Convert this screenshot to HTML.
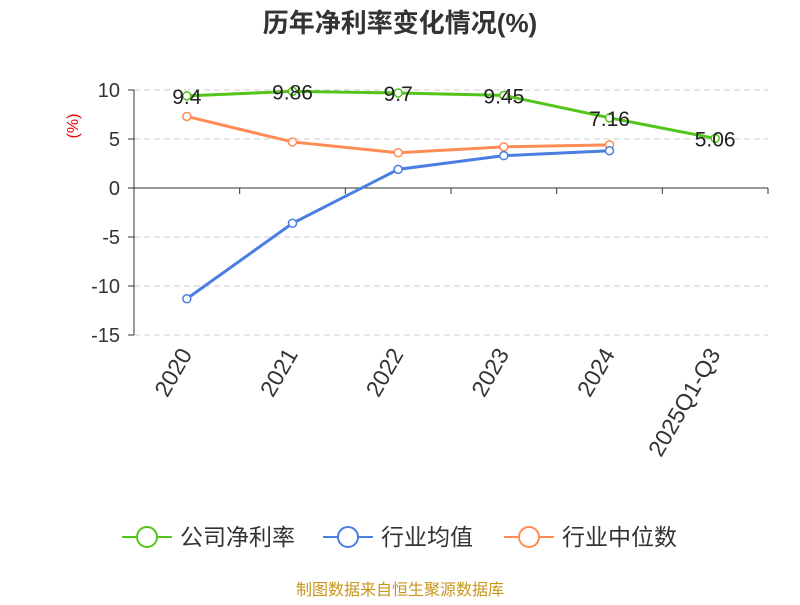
<!DOCTYPE html>
<html><head><meta charset="utf-8"><style>
body{margin:0;background:#fff;font-family:"Liberation Sans","Noto Sans CJK SC",sans-serif}
</style></head><body>
<svg id="c" width="800" height="600" xmlns="http://www.w3.org/2000/svg" font-family="Liberation Sans, Noto Sans CJK SC, sans-serif"></svg>
<script>
const categories=["2020","2021","2022","2023","2024","2025Q1-Q3"];
const companyRate=[9.4,9.86,9.7,9.45,7.16,5.06];
const industryAvg=[-11.3,-3.6,1.9,3.3,3.8];
const industryMedian=[7.3,4.7,3.6,4.2,4.4];
const yTicks=[10,5,0,-5,-10,-15];
const svg=document.getElementById('c');
const NS='http://www.w3.org/2000/svg';
const L=134,R=768,bw=(R-L)/categories.length;
const x=i=>L+bw*(i+0.5);
const y=v=>188-v*9.8;
function mk(t,a,p){const e=document.createElementNS(NS,t);for(const k in a)e.setAttribute(k,a[k]);(p||svg).appendChild(e);return e;}
let t=mk('text',{x:400,y:32,'text-anchor':'middle','font-size':26,'font-weight':'bold',fill:'#333'});t.textContent='历年净利率变化情况(%)';


t=mk('text',{x:78,y:126,'text-anchor':'middle','font-size':16,fill:'#e00',transform:'rotate(-90 78 126)'});t.textContent='(%)';


yTicks.forEach(v=>{
 if(v!==0){const g=mk('line',{x1:L,x2:R,y1:y(v),y2:y(v),stroke:'#ccc','stroke-dasharray':'6,4'});
 
 }
 const tk=mk('line',{x1:L-6,x2:L,y1:y(v),y2:y(v),stroke:'#333'});
 
 
 const l=mk('text',{x:L-14,y:y(v)+7,'text-anchor':'end','font-size':20,fill:'#333'});l.textContent=v;
 
 
});
let a=mk('line',{x1:L,x2:L,y1:y(10),y2:y(-15),stroke:'#333'});


a=mk('line',{x1:L,x2:R,y1:y(0),y2:y(0),stroke:'#333'});


categories.forEach((c,i)=>{
 const tk=mk('line',{x1:L+bw*(i+1),x2:L+bw*(i+1),y1:y(0),y2:y(0)+6,stroke:'#333'});
 
 
 const px=x(i)+6,py=354;
 const l=mk('text',{x:px,y:py,'text-anchor':'end','font-size':23,fill:'#333',transform:`rotate(-60 ${px} ${py})`});l.textContent=c;
 
 
});
function series(vals,col,name,labels){
 const p=mk('polyline',{points:vals.map((v,i)=>x(i)+','+y(v)).join(' '),fill:'none',stroke:col,'stroke-width':3});
 
 
 vals.forEach((v,i)=>{
  const c=mk('circle',{cx:x(i),cy:y(v),r:4,fill:'#fff',stroke:col,'stroke-width':1.5});
  
  
  if(labels){const l=mk('text',{x:x(i),y:y(v)+8,'text-anchor':'middle','font-size':21,fill:'#222'});l.textContent=v;
  
  }
 });
}
series(industryMedian,'#ff8c55','industry-median');
series(industryAvg,'#4a7ee0','industry-avg');
series(companyRate,'#52c41a','company-rate',true);
const leg=[['公司净利率','#52c41a',122],['行业均值','#4a7ee0',323],['行业中位数','#ff8c55',504]];
leg.forEach(([n,c,lx])=>{
 const g=mk('g',{});
 
 
 mk('line',{x1:lx,x2:lx+50,y1:537,y2:537,stroke:c,'stroke-width':2},g);
 mk('circle',{cx:lx+25,cy:537,r:10,fill:'#fff',stroke:c,'stroke-width':2},g);
 const l=mk('text',{x:lx+58,y:545,'font-size':23,fill:'#333'},g);l.textContent=n;
});
t=mk('text',{x:400,y:595,'text-anchor':'middle','font-size':16,fill:'#c8961e'});t.textContent='制图数据来自恒生聚源数据库';


</script>
</body></html>
